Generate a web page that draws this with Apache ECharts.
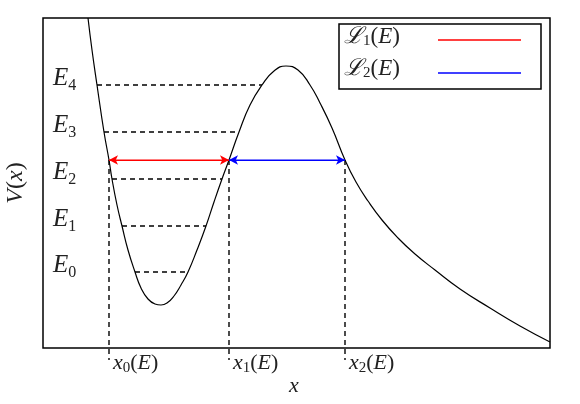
<!DOCTYPE html><html><head><meta charset="utf-8"><script src="https://cdn.jsdelivr.net/npm/echarts@6/dist/echarts.min.js"></script></head><body style="margin:0;background:#fff"><div id="c" style="width:580px;height:404px"></div><script>
const curve=[[88,18],[92,50],[97,85],[104,132],[109,160],[112,179],[117,205],[122,226],[128,250],[135,272],[141,288],[148,299],[155,304],[161,305],[167,303],[174,296],[181,285],[188,272],[197,250],[206,226],[214,202],[222,179],[229,160],[239,132],[250,105],[262,85],[274,71],[286,66],[298,70],[310,85],[320,103],[332,128],[345,160],[356,182],[368,201],[382,220],[398,238],[415,254],[435,270],[460,289],[490,308],[520,326],[550,342]];
const levels=[[97,262,85],[104,239,132],[112,222,179],[122,206,226],[135,188,272]];
const levelNames=['4','3','2','1','0'];
const turning=[109,229,345];
const arrowY=160;
const xNames=['0','1','2'];
const serif='"Liberation Serif","DejaVu Serif",serif';
const series=[{type:'line',data:curve,smooth:0.5,symbol:'none',lineStyle:{color:'#000',width:1.2},silent:true}];
levels.forEach(l=>series.push({type:'line',data:[[l[0],l[2]],[l[1],l[2]]],symbol:'none',lineStyle:{color:'#000',width:1.4,type:[5,4]}}));
turning.forEach(t=>series.push({type:'line',clip:false,data:[[t,arrowY],[t,360]],symbol:'none',lineStyle:{color:'#000',width:1.4,type:[5,4]}}));
function arrow(a,b,c){series.push({type:'line',data:[[a,arrowY],[b,arrowY]],symbol:'none',lineStyle:{color:c,width:1.2},markLine:{silent:true,symbol:['arrow','arrow'],symbolSize:[7,9],lineStyle:{color:c,width:1.2,type:'solid'},label:{show:false},data:[[{coord:[a,arrowY]},{coord:[b,arrowY]}]]}});}
arrow(109,229,'#ff0000');arrow(229,345,'#0000ff');
const g=[];
levels.forEach((l,i)=>g.push({type:'text',left:53,top:l[2]-19,style:{text:'{e|E}{s|'+levelNames[i]+'}',rich:{e:{fontFamily:serif,fontStyle:'italic',fontSize:25,fill:'#222'},s:{fontFamily:serif,fontSize:16,fill:'#222',padding:[14,0,0,0]}}}}));
turning.forEach((t,i)=>g.push({type:'text',left:t+4,top:352,style:{text:'{e|x}{s|'+xNames[i]+'}{r|(}{e|E}{r|)}',rich:{e:{fontFamily:serif,fontStyle:'italic',fontSize:22,fill:'#222'},r:{fontFamily:serif,fontSize:22,fill:'#222'},s:{fontFamily:serif,fontSize:15,fill:'#222',padding:[10,0,0,0]}}}}));
g.push({type:'text',left:289,top:375,style:{text:'x',font:'italic 22px '+serif,fill:'#222'}});
g.push({type:'text',x:16,y:183,rotation:Math.PI/2,style:{text:'{e|V}{r|(}{e|x}{r|)}',rich:{e:{fontFamily:serif,fontStyle:'italic',fontSize:24,fill:'#222'},r:{fontFamily:serif,fontSize:24,fill:'#222'}},align:'center',verticalAlign:'middle'}});
g.push({type:'rect',shape:{x:339,y:24,width:202,height:65},style:{fill:'#fff',stroke:'#000',lineWidth:1.5}});
['1','2'].forEach((n,i)=>{g.push({type:'text',left:344,top:25+i*32,style:{text:'{e|ℒ}{s|'+n+'}{r|(}{e|E}{r|)}',rich:{e:{fontFamily:serif,fontStyle:'italic',fontSize:23,fill:'#222'},r:{fontFamily:serif,fontSize:23,fill:'#222'},s:{fontFamily:serif,fontSize:15,fill:'#222',padding:[10,0,0,0]}}}});
g.push({type:'line',shape:{x1:438,y1:40+i*33,x2:521,y2:40+i*33},style:{stroke:i?'#0000ff':'#ff0000',lineWidth:1.3}});});
echarts.init(document.getElementById('c')).setOption({animation:false,
grid:{left:43,right:30,top:18,bottom:56,show:true,borderColor:'#000',borderWidth:1.5},
xAxis:{type:'value',min:43,max:550,show:false},
yAxis:{type:'value',min:18,max:348,inverse:true,show:false},
series,graphic:g});
</script></body></html>
